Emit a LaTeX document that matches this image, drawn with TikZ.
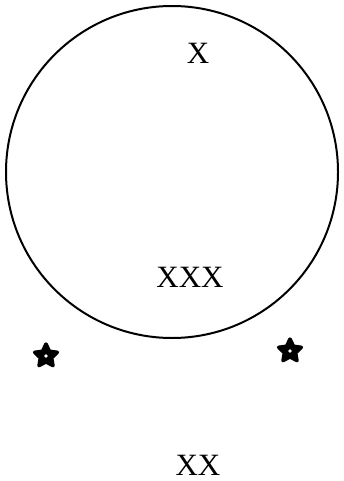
\documentclass[tikz,border=0pt]{standalone}
\usepackage{fontspec}
\setmainfont{Liberation Serif}
\usetikzlibrary{shapes.geometric}
\begin{document}
\begin{tikzpicture}[x=1pt,y=-1pt,
  lbl/.style={inner sep=0pt, font=\fontsize{31}{31}\selectfont},
  starmark/.style={star, star points=5, star point ratio=2.0, minimum size=24pt, inner sep=0pt, fill=black, draw=black, line width=3.4pt, line join=round}]
\useasboundingbox (0,0) rectangle (343,481);
\draw[line width=2pt] (172,172) circle (166);
\node[lbl] (x1) at (198,53) {X};
\node[lbl] (x3) at (190,277) {XXX};
\node[lbl] (x2) at (198,465) {XX};
\node[starmark] (s1) at (46,356) {};
\fill[white] (s1.center) circle (1.8);
\node[starmark] (s2) at (290,351) {};
\fill[white] (s2.center) circle (1.8);
\end{tikzpicture}
\end{document}
